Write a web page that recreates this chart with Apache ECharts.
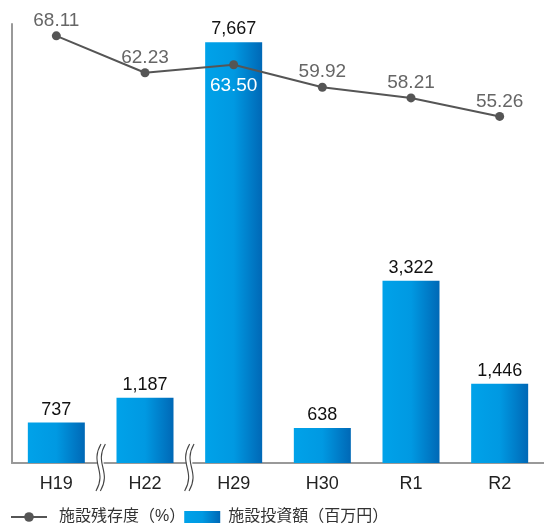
<!DOCTYPE html>
<html>
<head>
<meta charset="utf-8">
<script src="https://cdn.jsdelivr.net/npm/echarts@6/dist/echarts.min.js"></script>
<style>
  html, body { margin: 0; padding: 0; background: #fff; }
  #chart { width: 544px; height: 526px; }
</style>
</head>
<body>
<div id="chart"></div>
<script>
// Fiscal years on the category axis
const years = ['H19', 'H22', 'H29', 'H30', 'R1', 'R2'];
// Facility investment (million yen)
const investment = [737, 1187, 7667, 638, 3322, 1446];
// Facility remaining ratio (%)
const remaining = [68.11, 62.23, 63.50, 59.92, 58.21, 55.26];
// Gaps in the year sequence: break marks go after these category indices
const breaksAfter = [0, 1];

const lineName = '施設残存度（%）';
const barName = '施設投資額（百万円）';
const FONT = '"Liberation Sans", "Noto Sans CJK JP", sans-serif';

const chart = echarts.init(document.getElementById('chart'), null, { renderer: 'canvas' });

const barGradient = new echarts.graphic.LinearGradient(0, 0, 1, 0, [
  { offset: 0, color: '#00a2e9' },
  { offset: 0.5, color: '#0099e2' },
  { offset: 1, color: '#0068b6' }
]);

const legendText = { fontSize: 16, color: '#333', fontFamily: FONT };

chart.setOption({
  animation: false,
  textStyle: { fontFamily: FONT },
  grid: { left: 12, right: 0, top: 24, bottom: 63, containLabel: false },
  legend: {
    left: 10,
    bottom: 1,
    padding: 0,
    itemGap: -1,
    itemWidth: 36,
    itemHeight: 12,
    textStyle: Object.assign({
      rich: {
        a: Object.assign({ padding: [0, 0, 0, 7] }, legendText),
        b: Object.assign({ padding: [0, 0, 0, 3] }, legendText)
      }
    }, legendText),
    formatter: name => (name === lineName ? '{a|' : '{b|') + name + '}',
    data: [{ name: lineName }, { name: barName, icon: 'rect' }]
  },
  xAxis: {
    type: 'category',
    data: years,
    axisLine: { show: true, lineStyle: { color: '#999', width: 2 } },
    axisTick: { show: false },
    axisLabel: { fontSize: 18, color: '#222', margin: 12 }
  },
  yAxis: [
    {
      type: 'value', min: 0, max: 8000,
      axisLine: { show: true, lineStyle: { color: '#999', width: 2 } },
      axisTick: { show: false }, axisLabel: { show: false },
      splitLine: { show: false }
    },
    {
      type: 'value', min: 0, max: 70, position: 'right',
      axisLine: { show: false }, axisTick: { show: false },
      axisLabel: { show: false }, splitLine: { show: false }
    }
  ],
  series: [
    {
      name: barName,
      type: 'bar',
      data: investment,
      barWidth: 57,
      itemStyle: { color: barGradient },
      label: {
        show: true, position: 'top', distance: 4,
        fontSize: 18, color: '#111',
        formatter: p => p.value.toLocaleString('en-US')
      },
      z: 2
    },
    {
      name: lineName,
      type: 'line',
      yAxisIndex: 1,
      data: remaining.map((v, i) => i === 2 ? {
        value: v,
        label: { position: 'bottom', color: '#fff', distance: 7 }
      } : v),
      symbol: 'circle',
      symbolSize: 9,
      lineStyle: { color: '#555', width: 2 },
      itemStyle: { color: '#555' },
      label: {
        show: true, position: 'top', distance: 1,
        fontSize: 19, color: '#666',
        formatter: p => p.value.toFixed(2)
      },
      z: 3
    }
  ]
});

// Wavy break marks on the category axis between non-consecutive years
function drawBreaks() {
  const elements = [];
  breaksAfter.forEach(i => {
    const a = chart.convertToPixel({ xAxisIndex: 0 }, years[i]);
    const b = chart.convertToPixel({ xAxisIndex: 0 }, years[i + 1]);
    const x = (a + b) / 2;
    const y0 = chart.convertToPixel({ yAxisIndex: 0 }, 0);
    const top = y0 - 19, h = 47;
    elements.push({
      type: 'rect', z: 10,
      shape: { x: x - 3, y: y0 - 3, width: 6, height: 6 },
      style: { fill: '#fff' }
    });
    [-2.2, 2.2].forEach(dx => {
      const cx = x + dx;
      elements.push({
        type: 'bezierCurve', z: 11,
        shape: {
          x1: cx + 2.5, y1: top,
          cpx1: cx - 9, cpy1: top + h * 0.42,
          cpx2: cx + 9, cpy2: top + h * 0.58,
          x2: cx - 2.5, y2: top + h
        },
        style: { fill: null, stroke: '#444', lineWidth: 1.1 }
      });
    });
  });
  chart.setOption({ graphic: elements });
}
drawBreaks();
</script>
</body>
</html>
